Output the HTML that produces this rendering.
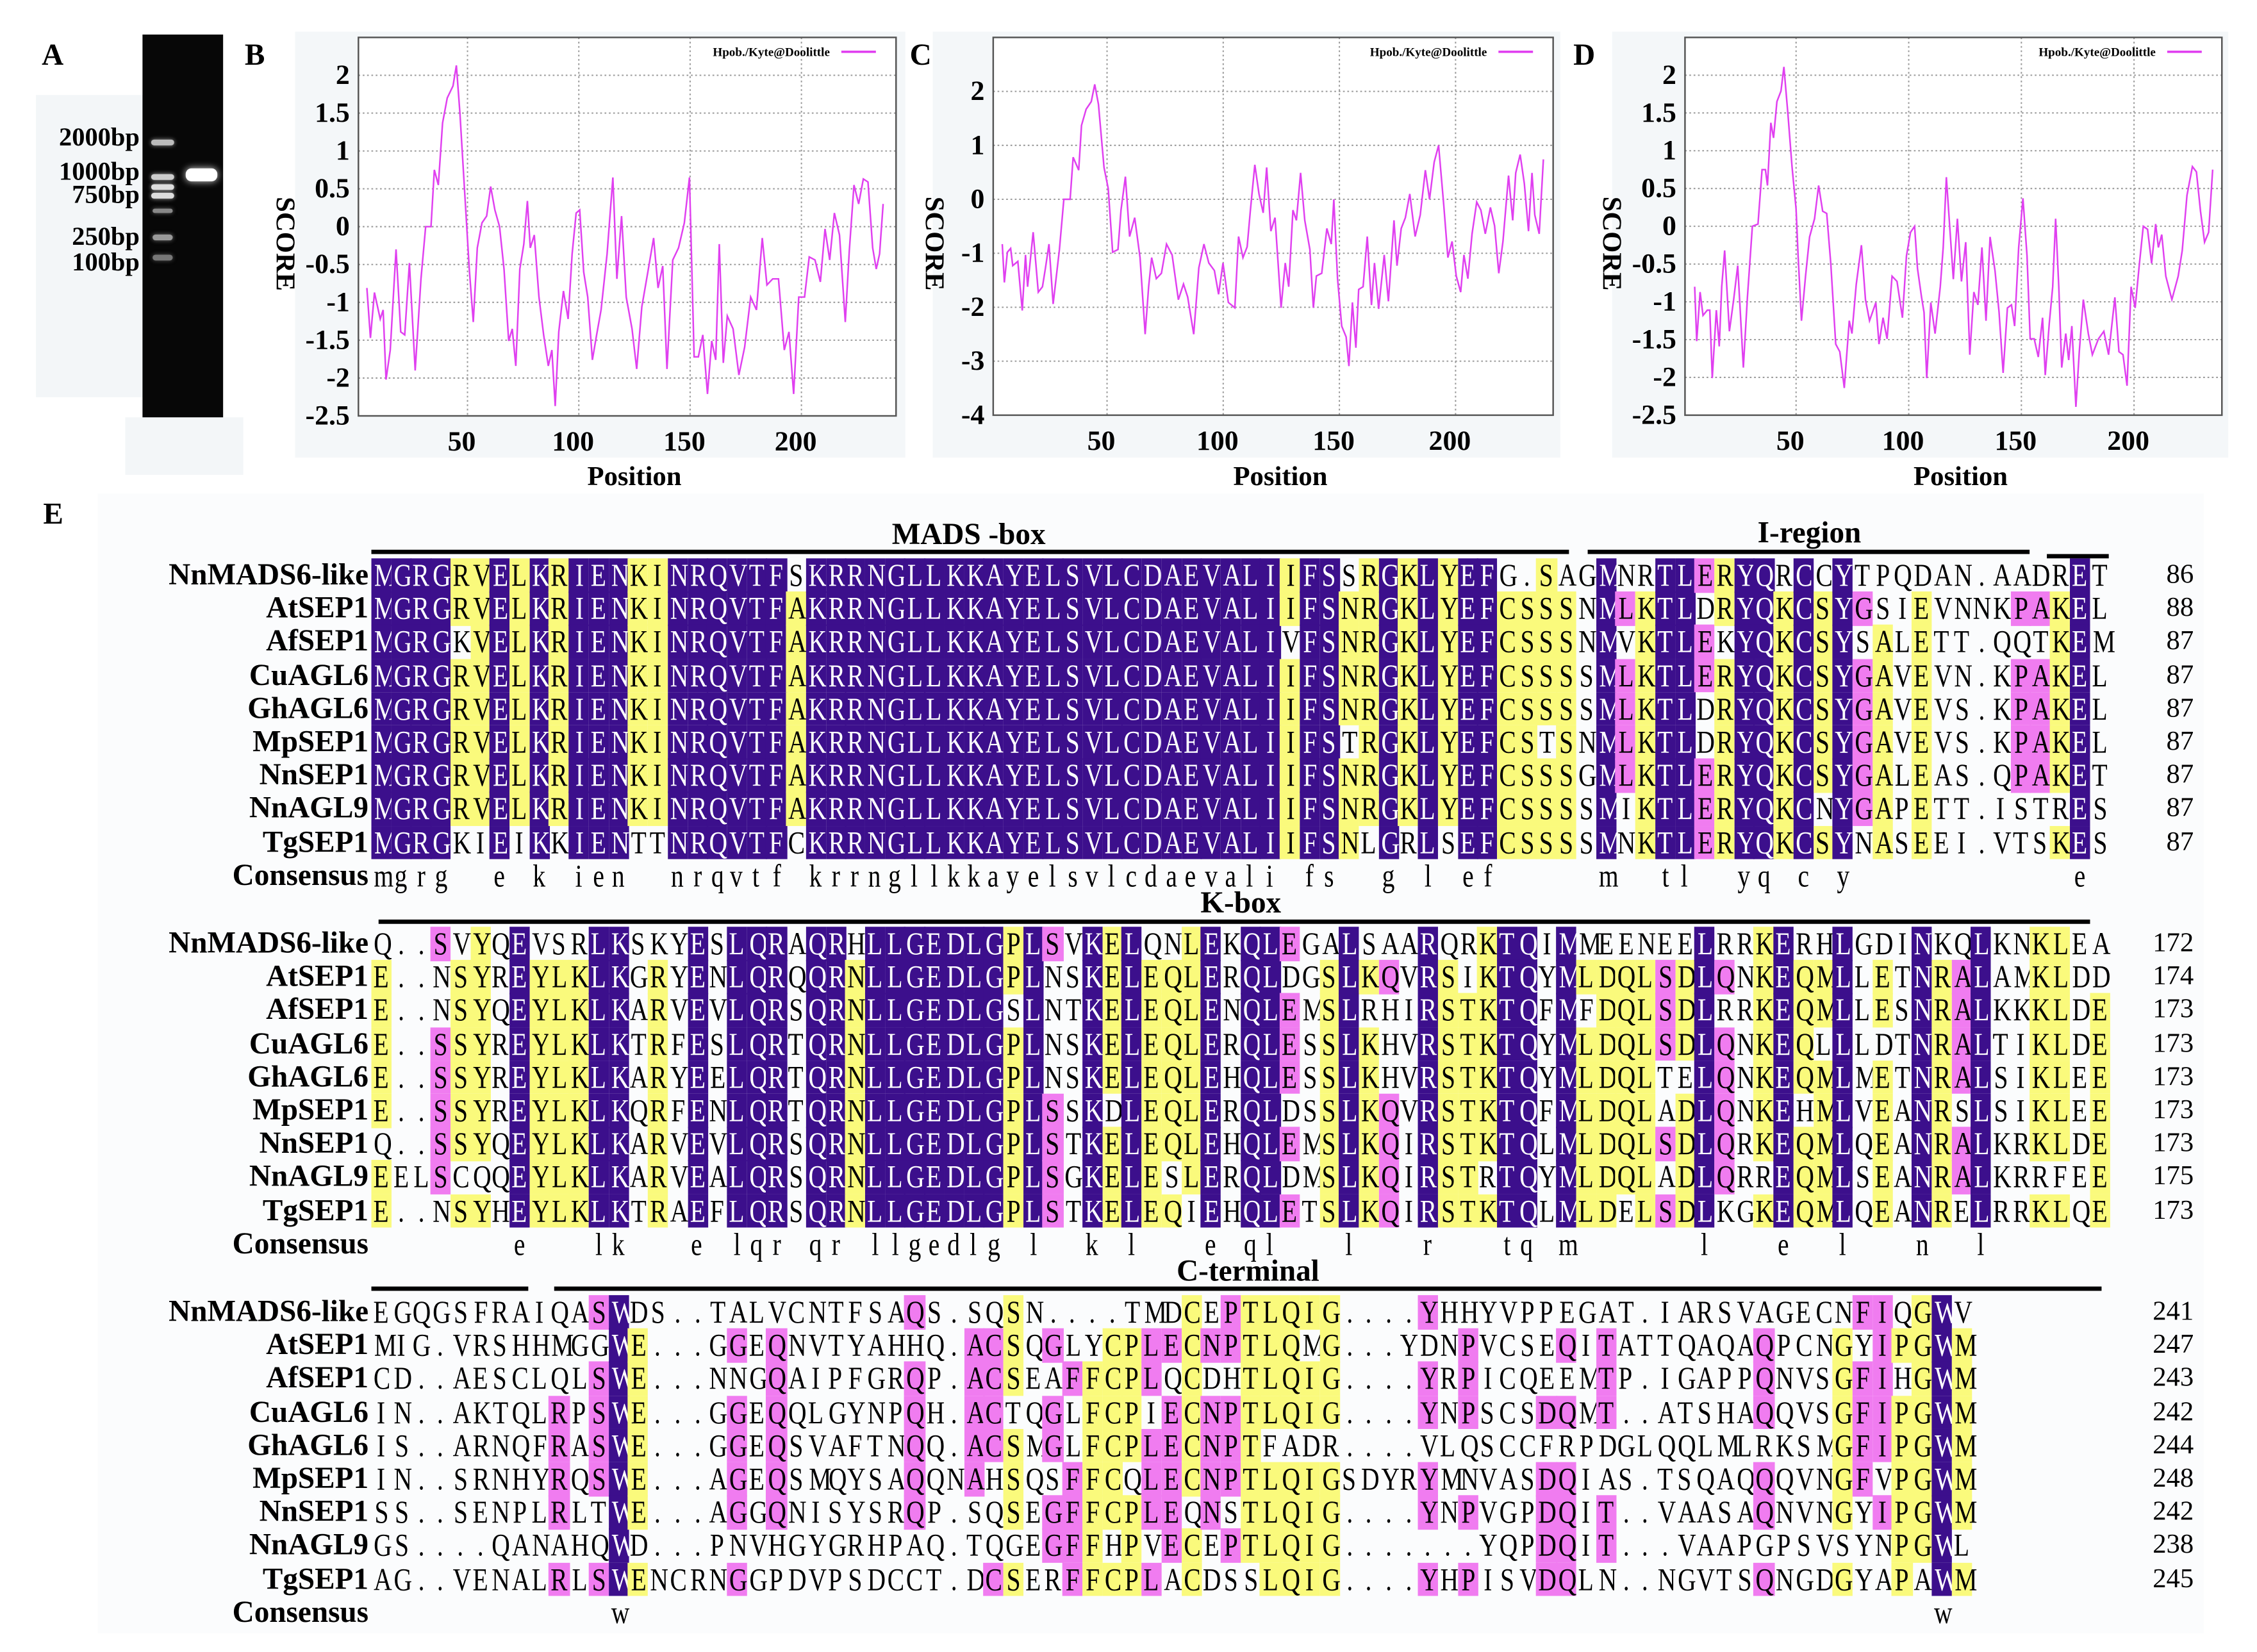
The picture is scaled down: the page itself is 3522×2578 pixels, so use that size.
<!DOCTYPE html>
<html><head><meta charset="utf-8">
<style>
html,body{margin:0;padding:0;background:#fff;}
body{width:3522px;height:2578px;overflow:hidden;position:relative;}
#fig{position:absolute;left:0;top:0;width:1568px;height:1148px;transform-origin:0 0;transform:scale(2.2462,2.2457);font-family:"Liberation Serif",serif;color:#000;}
.abs{position:absolute;}
.plab{position:absolute;font-weight:bold;font-size:21px;}
.gl{position:absolute;font-weight:bold;font-size:18px;right:0;text-align:right;line-height:18px;}
.cell{position:absolute;text-align:center;font-size:22px;line-height:23.4px;overflow:visible;white-space:nowrap;}
.cell span{display:inline-block;transform:scaleX(0.8);}
.nm{position:absolute;font-weight:bold;font-size:21px;text-align:right;width:180px;left:76px;line-height:23px;white-space:nowrap;}
.num{position:absolute;font-size:19px;text-align:right;width:50px;left:1474px;line-height:23px;}
.hd{position:absolute;font-weight:bold;font-size:21px;white-space:nowrap;transform:translateX(-50%);}
.bar{position:absolute;height:3px;background:#000;}
</style></head>
<body>
<div id="fig">
  <div class="abs" style="left:25px;top:66px;width:74px;height:210px;background:#f3f6f8"></div>
  <div class="abs" style="left:87px;top:290px;width:82px;height:40px;background:#f3f6f8"></div>
  <div class="abs" style="left:205px;top:22px;width:424px;height:296px;background:#f4f7f9"></div>
  <div class="abs" style="left:648px;top:22px;width:436px;height:296px;background:#f4f7f9"></div>
  <div class="abs" style="left:1120px;top:22px;width:428px;height:296px;background:#f4f7f9"></div>
  <div class="abs" style="left:68px;top:343px;width:1463px;height:792px;background:#fbfcfd"></div>

  <div class="plab" style="left:29px;top:26px">A</div>
  <div class="plab" style="left:170px;top:26px">B</div>
  <div class="plab" style="left:632px;top:26px">C</div>
  <div class="plab" style="left:1093px;top:26px">D</div>
  <div class="plab" style="left:30px;top:345px">E</div>

  <div class="abs" style="left:99px;top:24px;width:56px;height:266px;background:#070707">
    <div class="abs" style="left:6px;top:73px;width:16px;height:4px;background:#bbb;border-radius:2px;box-shadow:0 0 3px #999"></div>
    <div class="abs" style="left:6px;top:97px;width:16px;height:4px;background:#ccc;border-radius:2px;box-shadow:0 0 3px #aaa"></div>
    <div class="abs" style="left:6px;top:104px;width:16px;height:4px;background:#ddd;border-radius:2px;box-shadow:0 0 3px #aaa"></div>
    <div class="abs" style="left:6px;top:110px;width:16px;height:4px;background:#ddd;border-radius:2px;box-shadow:0 0 3px #aaa"></div>
    <div class="abs" style="left:7px;top:121px;width:14px;height:3px;background:#888;border-radius:2px;box-shadow:0 0 3px #666"></div>
    <div class="abs" style="left:7px;top:139px;width:14px;height:4px;background:#999;border-radius:2px;box-shadow:0 0 3px #777"></div>
    <div class="abs" style="left:7px;top:153px;width:14px;height:4px;background:#777;border-radius:2px;box-shadow:0 0 3px #555"></div>
    <div class="abs" style="left:30px;top:93px;width:22px;height:9px;background:#fff;border-radius:4px;box-shadow:0 0 5px #ddd"></div>
  </div>
  <div class="abs" style="left:0;top:0;width:97px;height:300px">
    <div class="gl" style="top:86px">2000bp</div>
    <div class="gl" style="top:110px">1000bp</div>
    <div class="gl" style="top:126px">750bp</div>
    <div class="gl" style="top:155px">250bp</div>
    <div class="gl" style="top:173px">100bp</div>
  </div>

  <svg id="charts" class="abs" style="left:0;top:0" width="1568" height="345"></svg>
  <div id="align" class="abs" style="left:0;top:0;width:1568px;height:1148px"></div>
</div>

<script>
const xTicks=[50,100,150,200];
const yTicksB=[-2.5,-2,-1.5,-1,-0.5,0,0.5,1,1.5,2];
const yTicksC=[-4,-3,-2,-1,0,1,2];
const yTicksD=[-2.5,-2,-1.5,-1,-0.5,0,0.5,1,1.5,2];
const posB=[4.8,6.4,8.2,10.8,12.1,13.4,15.3,17.9,20,21.8,23.9,26.5,29.1,31.2,33.6,35.1,36.9,38.8,40.9,43.5,45,46.6,48.7,50.8,52.6,54.4,56.5,58.6,60.4,62.3,64.4,66.4,68.5,70.1,71.7,73.5,75.3,76.9,78.2,80,82.1,84.2,86.3,87.9,89.4,91,93.1,95.2,97,98.8,100.4,102.2,104,106.1,108,110,112.7,115.3,117.1,119.2,121.3,123.9,126,128.3,131,133.6,135.6,137.7,139.6,142.2,144.8,147.4,149.7,151.8,153.7,155.7,157.8,159.7,161.5,163.1,164.9,166.7,169.3,171.9,174.5,177.2,179.8,182.4,184.5,187.1,189.7,192.3,194.4,196.5,198.8,201.4,203.5,206.1,208.5,210.6,212.7,214.8,217.1,219.7,221.5,223.6,225.7,227.8,229.9,232,233.6,235.1,236.7];
const scoreB=[-0.81,-1.47,-0.87,-1.22,-1.1,-2.02,-1.63,-0.3,-1.39,-1.43,-0.48,-1.9,-0.69,0,0,0.75,0.55,1.37,1.7,1.86,2.13,1.5,0.47,-0.56,-1.26,-0.28,0.05,0.14,0.53,0.22,0,-0.56,-1.51,-1.35,-1.84,-0.56,-0.23,0.34,-0.28,-0.11,-0.93,-1.43,-1.84,-1.63,-2.37,-1.39,-0.85,-1.22,-0.36,0.18,0.22,-0.6,-0.93,-1.76,-1.43,-1.1,-0.36,0.65,-0.69,0.14,-0.93,-1.35,-1.88,-1.06,-0.6,-0.15,-0.81,-0.52,-1.88,-0.44,-0.28,0.05,0.65,-1.72,-1.72,-1.43,-2.21,-1.51,-1.76,-0.23,-1.8,-1.18,-1.35,-1.96,-1.59,-0.93,-1.1,-0.15,-0.77,-0.69,-0.69,-1.63,-1.39,-2.21,-0.93,-0.93,-0.4,-0.44,-0.73,-0.03,-0.44,0.18,-0.11,-1.26,-0.32,0.55,0.3,0.63,0.59,-0.28,-0.56,-0.36,0.3];
const posC=[4.9,5.8,7.1,8.5,9.4,11.6,13.5,14.9,15.8,18.2,20.4,22.2,23.5,25,26.8,29.5,31.4,34.1,35.4,37.8,39,41,43.2,44.7,46.3,48.7,50.5,52.4,54.7,56,57.9,59.7,61.9,64.2,66.4,67.9,69.2,71.2,73.4,75.6,78,80.7,82.9,84.7,87.3,89.5,91.7,93.8,96.2,98,99.9,102.2,105,106.6,108.5,110.3,111.7,113.6,115.4,117.2,118.7,120.5,122.3,124.9,126.7,128.2,130,131.5,133.3,135.1,137.3,138.8,140.1,142.4,144.6,146.5,147.6,149.2,151,152.9,154.1,155.6,157.1,158.3,160.2,162,163.8,165.1,166.9,169.3,171.1,173.5,174.8,176.6,178.4,180.3,182.6,184.8,187,188.8,190.8,192.7,194.9,196.7,198.5,200.3,202.2,203.6,205.3,207.1,209.1,210.9,212.8,215,216.8,218.6,220.4,222.8,224.6,225.9,227.8,229.6,231.4,232.9,234.1,236,237.8];
const scoreC=[-0.83,-1.54,-0.98,-0.91,-1.23,-1.15,-2.06,-1.03,-1.62,-0.61,-1.72,-1.62,-1.27,-0.83,-1.94,-0.93,0,0,0.78,0.54,1.37,1.67,1.81,2.13,1.76,0.59,0.2,-0.98,-0.93,-0.2,0.42,-0.69,-0.34,-1.08,-2.5,-1.62,-1.08,-1.47,-1.37,-0.83,-1.03,-1.86,-1.57,-1.81,-2.5,-1.27,-0.83,-1.18,-1.32,-1.76,-1.18,-1.91,-2.01,-0.69,-1.08,-0.88,-0.2,0.64,0.1,-0.25,0.59,-0.59,-0.34,-2.01,-1.18,-1.62,-0.2,-0.39,0.49,-0.39,-0.93,-2.01,-1.42,-1.37,-0.54,-0.83,0,-1.47,-2.35,-2.55,-3.09,-1.91,-2.75,-1.67,-1.62,-0.69,-1.96,-1.18,-2.03,-1.03,-1.89,-0.39,-1.23,-0.54,-0.34,0.1,-0.69,-0.29,0.54,0,0.69,1.0,-0.1,-1.08,-0.78,-1.42,-1.72,-1.03,-1.47,-0.64,-0.05,-0.2,-0.64,-0.15,-0.49,-1.37,-0.78,0.44,-0.39,0.49,0.83,0.29,-0.59,0.49,-0.29,-0.64,0.74];
const posD=[5,5.9,7.4,8.7,10.6,11.7,12.8,14.6,15.9,17,18.3,20.4,22.3,24.1,25.2,26.6,28.4,30.6,33.1,34.9,36.4,37.3,38.8,40,41.5,43.3,44.6,46.4,48.2,50,50.9,52.4,54.2,56,58.2,60,61.8,63.6,65.4,67.6,69.4,71.4,73.6,74.8,76.7,79,80.8,82.6,85.4,86.8,88.6,90.4,92.6,94.8,97.2,99,100.8,102.6,103.9,105.7,106.8,108,109.8,111.7,114,115.3,116.7,118.6,119.8,121.6,123.4,125.3,127.1,128.9,130.7,132.5,134.3,136.1,138.3,140.1,141.9,143.8,145.6,147,148.8,150.7,152.5,153.9,155.7,157.5,159.4,160.6,162.4,163.9,165.2,166.6,167.9,169.7,171,172.4,174.2,175.7,177.5,179.7,181.5,184.2,186.6,188.7,191.5,193.3,195.1,196.9,198.7,200.5,202.3,204.1,206,207.8,209.6,210.8,212.3,214.1,216.8,219.6,221.4,223.5,225.9,227.7,229.5,231.3,233.1,234.9];
const scoreD=[-0.8,-1.52,-0.87,-1.18,-1.11,-1.11,-2.01,-1.11,-1.59,-0.8,-0.32,-1.39,-0.97,-0.52,-1.11,-1.87,-0.94,0,0.03,0.75,0.75,0.54,1.37,1.17,1.65,1.79,2.11,1.48,0.79,0.23,-0.39,-1.25,-0.66,-0.14,0.1,0.54,0.2,0.17,-0.49,-1.56,-1.66,-2.14,-1.25,-1.42,-0.77,-0.25,-0.97,-1.25,-1.01,-1.56,-1.21,-1.49,-0.66,-0.73,-1.21,-0.39,-0.08,0,-0.56,-0.94,-1.14,-2.01,-1.01,-1.42,-0.8,-0.28,0.65,-0.18,-0.7,0.1,-0.73,-0.21,-1.7,-0.87,-1.04,-0.28,-1.25,-0.14,-0.59,-1.14,-1.94,-1.08,-1.04,-1.32,-0.28,0.37,-0.39,-1.49,-1.49,-1.73,-1.21,-1.97,-1.28,-0.8,0.1,-0.8,-1.87,-1.42,-1.77,-1.32,-2.39,-1.66,-0.97,-1.42,-1.7,-1.49,-1.39,-1.7,-0.94,-1.66,-1.7,-2.11,-0.8,-1.08,-0.52,0,-0.04,-0.49,0.03,-0.28,-0.11,-0.66,-0.97,-0.66,-0.32,0.41,0.79,0.72,0.2,-0.21,-0.08,0.75];

const NS="http://www.w3.org/2000/svg";
const svg=document.getElementById('charts');
function mk(tag,attrs,parent){const e=document.createElementNS(NS,tag);for(const k in attrs)e.setAttribute(k,attrs[k]);(parent||svg).appendChild(e);return e;}

function drawChart(id,fr,xr,yr,yTicks,pos,score){
  const g=mk('g',{});
  
  
  const xs=v=>fr.l+(v-xr[0])/(xr[1]-xr[0])*(fr.r-fr.l);
  const ys=v=>fr.b-(v-yr[0])/(yr[1]-yr[0])*(fr.b-fr.t);
  const bg=mk('rect',{x:fr.l,y:fr.t,width:fr.r-fr.l,height:fr.b-fr.t,fill:'#fff'},g);
  
  
  yTicks.forEach(v=>{
    const y=ys(v);
    if(y>fr.t+1&&y<fr.b-1){
      const gl=mk('line',{x1:fr.l,x2:fr.r,y1:y,y2:y,stroke:'#9a9a9a','stroke-width':0.9,'stroke-dasharray':'1.2,1.8'},g);
      
      
    }
    const t=mk('text',{x:fr.l-6,y:y+6,'text-anchor':'end','font-family':'Liberation Serif, serif','font-weight':'bold','font-size':19.5},g);
    t.textContent=String(v);
    
    
  });
  xTicks.forEach(v=>{
    const x=xs(v);
    const gl=mk('line',{x1:x,x2:x,y1:fr.t,y2:fr.b,stroke:'#9a9a9a','stroke-width':0.9,'stroke-dasharray':'1.2,1.8'},g);
    
    
    const t=mk('text',{x:x-4,y:fr.b+24,'text-anchor':'middle','font-family':'Liberation Serif, serif','font-weight':'bold','font-size':19.5},g);
    t.textContent=String(v);
    
    
  });
  const d=pos.map((p,i)=>(i?'L':'M')+xs(p).toFixed(2)+','+ys(score[i]).toFixed(2)).join('');
  const ln=mk('path',{d:d,fill:'none',stroke:'#e040f0','stroke-width':1.1},g);
  
  
  const fm=mk('rect',{x:fr.l,y:fr.t,width:fr.r-fr.l,height:fr.b-fr.t,fill:'none',stroke:'#555','stroke-width':1.1},g);
  
  
  const lt=mk('text',{x:fr.r-46,y:39,'text-anchor':'end','font-family':'Liberation Serif, serif','font-weight':'bold','font-size':8.5},g);
  lt.textContent='Hpob./Kyte@Doolittle';
  
  
  const ll=mk('line',{x1:fr.r-38,x2:fr.r-14,y1:36,y2:36,stroke:'#e040f0','stroke-width':1.6},g);
  
  
  const xt=mk('text',{x:(fr.l+fr.r)/2+5,y:337,'text-anchor':'middle','font-family':'Liberation Serif, serif','font-weight':'bold','font-size':19},g);
  xt.textContent='Position';
  
  
  const cx=fr.l-(id==='c'?47:57), cy=(fr.t+fr.b)/2+12;
  const yt=mk('text',{x:cx,y:cy,'text-anchor':'middle','font-family':'Liberation Serif, serif','font-weight':'bold','font-size':19,transform:'rotate(90 '+cx+' '+cy+')'},g);
  yt.textContent='SCORE';
  
  
}
drawChart('b',{l:249,r:622.5,t:26,b:289},[1,242.5],[-2.5,2.5],yTicksB,posB,scoreB);
drawChart('c',{l:690,r:1079,t:26,b:288.5},[1,242],[-4,3],yTicksC,posC,scoreC);
drawChart('d',{l:1170.6,r:1543.6,t:26,b:288.5},[0.7,239],[-2.5,2.5],yTicksD,posD,scoreD);

const names=['NnMADS6-like','AtSEP1','AfSEP1','CuAGL6','GhAGL6','MpSEP1','NnSEP1','NnAGL9','TgSEP1'];
const block1=[
"MGRGRVELKRIENKINRQVTFSKRRNGLLKKAYELSVLCDAEVALIIFSSRGKLYEFG.SAGMNRTLERYQRCCYTPQDAN.AADRET",
"MGRGRVELKRIENKINRQVTFAKRRNGLLKKAYELSVLCDAEVALIIFSNRGKLYEFCSSSNMLKTLDRYQKCSYGSIEVNNKPAKEL",
"MGRGKVELKRIENKINRQVTFAKRRNGLLKKAYELSVLCDAEVALIVFSNRGKLYEFCSSSNMVKTLEKYQKCSYSALETT.QQTKEM",
"MGRGRVELKRIENKINRQVTFAKRRNGLLKKAYELSVLCDAEVALIIFSNRGKLYEFCSSSSMLKTLERYQKCSYGAVEVN.KPAKEL",
"MGRGRVELKRIENKINRQVTFAKRRNGLLKKAYELSVLCDAEVALIIFSNRGKLYEFCSSSSMLKTLDRYQKCSYGAVEVS.KPAKEL",
"MGRGRVELKRIENKINRQVTFAKRRNGLLKKAYELSVLCDAEVALIIFSTRGKLYEFCSTSNMLKTLDRYQKCSYGAVEVS.KPAKEL",
"MGRGRVELKRIENKINRQVTFAKRRNGLLKKAYELSVLCDAEVALIIFSNRGKLYEFCSSSGMLKTLERYQKCSYGALEAS.QPAKET",
"MGRGRVELKRIENKINRQVTFAKRRNGLLKKAYELSVLCDAEVALIIFSNRGKLYEFCSSSSMIKTLERYQKCNYGAPETT.ISTRES",
"MGRGKIEIKKIENTTNRQVTFCKRRNGLLKKAYELSVLCDAEVALIIFSNLGRLSEFCSSSSMNKTLERYQKCSYNASEEI.VTSKES"];
const block2=[
"Q..SVYQEVSRLKSKYESLQRAQRHLLGEDLGPLSVKELQNLEKQLEGALSAARQRKTQIMMEENEELRRKERHLGDINKQLKNKLEA",
"E..NSYREYLKLKGRYENLQRQQRNLLGEDLGPLNSKELEQLERQLDGSLKQVRSIKTQYMLDQLSDLQNKEQMLLETNRALAMKLDD",
"E..NSYQEYLKLKARVEVLQRSQRNLLGEDLGSLNTKELEQLENQLEMSLRHIRSTKTQFMFDQLSDLRRKEQMLLESNRALKKKLDE",
"E..SSYREYLKLKTRFESLQRTQRNLLGEDLGPLNSKELEQLERQLESSLKHVRSTKTQYMLDQLSDLQNKEQLLLDTNRALTIKLDE",
"E..SSYREYLKLKARYEELQRTQRNLLGEDLGPLNSKELEQLEHQLESSLKHVRSTKTQYMLDQLTELQNKEQMLMETNRALSIKLEE",
"E..SSYREYLKLKQRFENLQRTQRNLLGEDLGPLSSKDLEQLERQLDSSLKQVRSTKTQFMLDQLADLQNKEHMLVEANRSLSIKLEE",
"Q..SSYQEYLKLKARVEVLQRSQRNLLGEDLGPLSTKELEQLEHQLEMSLKQIRSTKTQLMLDQLSDLQRKEQMLQEANRALKRKLDE",
"EELSCQQEYLKLKARVEALQRSQRNLLGEDLGPLSGKELESLERQLDMSLKQIRSTRTQYMLDQLADLQRREQMLSEANRALKRRFEE",
"E..NSYHEYLKLKTRAEFLQRSQRNLLGEDLGPLSTKELEQIEHQLETSLKQIRSTKTQLMLDELSDLKGKEQMLQEANRELRRKLQE"];
const block3=[
"EGQGSFRAIQASWDS..TALVCNTFSAQS.SQSN....TMDCEPTLQIG....YHHYVPPEGAT.IARSVAGECNFIQGWV",
"MIG.VRSHHMGGWE...GGEQNVTYAHHQ.ACSQGLYCPLECNPTLQMG...YDNPVCSEQITATTQAQAQPCNGYIPGWM",
"CD..AESCLQLSWE...NNGQAIPFGRQP.ACSEAFFCPLQCDHTLQIG....YRPICQEEMTP.IGAPPQNVSGFIHGWM",
"IN..AKTQLRPSWE...GGEQQLGYNPQH.ACTQGLFCPIECNPTLQIG....YNPSCSDQMT..ATSHAQQVSGFIPGWM",
"IS..ARNQFRASWE...GGEQSVAFTNQQ.ACSMGLFCPLECNPTFADR....VLQSCCFRPDGLQQLMLRKSMGFIPGWM",
"IN..SRNHYRQSWE...AGEQSMQYSAQQNAHSQSFFCQLECNPTLQIGSDYRYMNVASDQIAS.TSQAQQQVNGFVPGWM",
"SS..SENPLRLTWE...AGGQNISYSRQP.SQSEGFFCPLEQNSTLQIG....YNPVGPDQIT..VAASAQNVNGYIPGWM",
"GS....QANAHQWD...PNVHGYGRHPAQ.TQGEGFFHPVECEPTLQIG.......YQPDQIT...VAAPGPSVSYNPGWL",
"AG..VENALRLSWENCRNGGPDVPSDCCT.DCSERFFCPLACDSSLQIG....YHPISVDQLN..NGVTSQNGDGYAPAWM"];
const ends1=[86,88,87,87,87,87,87,87,87];
const ends2=[172,174,173,173,173,173,173,175,173];
const ends3=[241,247,243,242,244,248,242,238,245];

const A=document.getElementById('align');
const CW=13.72, X0=258, P=23.2;
const PURPLE='#3c0f8c', YEL='#fafa7c', PINK='#f07cf0';
function div(cls,style,text,parent){const e=document.createElement('div');e.className=cls;e.setAttribute('style',style);if(text!=null)e.textContent=text;(parent||A).appendChild(e);return e;}

function drawBlock(bi,rows,ends,top){
  const blk=div('abs','left:0;top:0;width:1568px;height:1148px',null);
  
  
  const L=Math.max(...rows.map(r=>r.length));
  const cons=[];
  for(let c=0;c<L;c++){
    const tally={};
    rows.forEach(r=>{const ch=r[c];if(ch&&ch!=='.'&&ch!==' ')tally[ch]=(tally[ch]||0)+1;});
    let best='',cnt=0;for(const k in tally)if(tally[k]>cnt){cnt=tally[k];best=k;}
    cons.push(cnt===9?best.toLowerCase():' ');
    rows.forEach((r,ri)=>{
      const ch=r[c];if(!ch||ch===' ')return;
      let bg='transparent',fg='#000';
      if(ch===best){if(cnt===9){bg=PURPLE;fg='#fff';}else if(cnt>=7)bg=YEL;else if(cnt>=5)bg=PINK;}
      const cell=div('cell','left:'+(X0+c*CW).toFixed(2)+'px;top:'+(top+ri*P).toFixed(2)+'px;width:'+(CW+0.4).toFixed(2)+'px;height:'+(P+0.3)+'px;background:'+bg+';color:'+fg,null,blk);
      
      
      const s=document.createElement('span');s.textContent=ch;cell.appendChild(s);
    });
  }
  rows.forEach((r,ri)=>{
    const n=div('nm','top:'+(top+ri*P).toFixed(1)+'px',names[ri],blk);
    
    
    const e=div('num','top:'+(top+ri*P).toFixed(1)+'px',String(ends[ri]),blk);
    
    
  });
  const ct=top+9*P;
  const cn=div('nm','top:'+ct.toFixed(1)+'px','Consensus',blk);
  
  
  cons.forEach((ch,c)=>{
    if(ch===' ')return;
    const cell=div('cell','left:'+(X0+c*CW).toFixed(2)+'px;top:'+ct.toFixed(2)+'px;width:'+CW+'px;height:'+P+'px',null,blk);
    
    
    const s=document.createElement('span');s.textContent=ch;cell.appendChild(s);
  });
}
drawBlock(0,block1,ends1,388);
drawBlock(1,block2,ends2,644);
drawBlock(2,block3,ends3,900);

function bar(x1,x2,y,name){const b=div('bar','left:'+x1+'px;top:'+y+'px;width:'+(x2-x1)+'px',null);
  
  }
function hd(text,x,y,name){const h=div('hd','left:'+x+'px;top:'+y+'px',text);
  
  }
bar(258,1090,382,'mads-box-bar'); hd('MADS -box',673,359,'mads-box-label');
bar(1103,1410,382,'i-region-bar'); hd('I-region',1257,358,'i-region-label');
bar(1422,1465,385,'k-start-bar');
bar(263,1452,639,'k-box-bar'); hd('K-box',862,615,'k-box-label');
bar(258,367,894,'c-terminal-bar-left'); bar(385,1460,894,'c-terminal-bar'); hd('C-terminal',867,871,'c-terminal-label');
</script>
</body></html>
